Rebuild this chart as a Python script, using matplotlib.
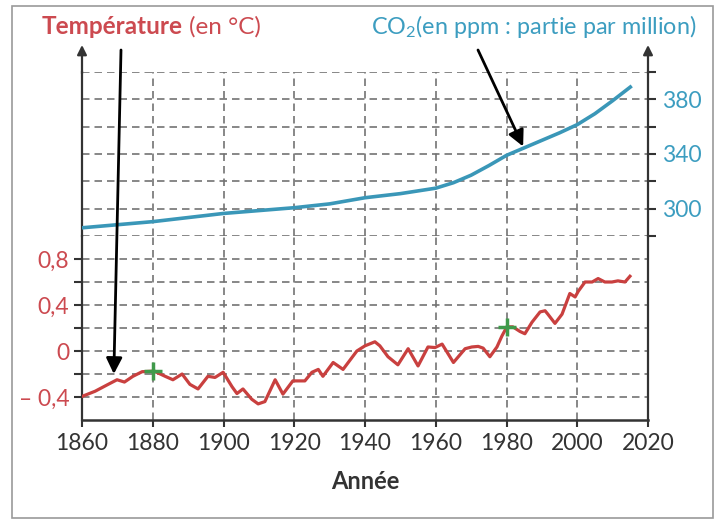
import matplotlib
matplotlib.use('Agg')
import matplotlib.pyplot as plt
from matplotlib.patches import Rectangle

plt.rcParams['font.family'] = ['Lato', 'DejaVu Sans']
plt.rcParams['mathtext.fontset'] = 'custom'
plt.rcParams['mathtext.rm'] = 'Lato'

############ Data ############
years_temp = [1860, 1863.7, 1867.4, 1869.9, 1872, 1874.4, 1877, 1880.4, 1883.5, 1885.7,
              1888.3, 1890.5, 1892.8, 1895.6, 1897.6, 1899.9, 1902.4, 1903.8, 1905.5, 1908,
              1909.8, 1911.7, 1914.6, 1916.8, 1919.6, 1923, 1925, 1926.8, 1928.1, 1931,
              1933.8, 1937.7, 1940, 1942.8, 1944.2, 1946.5, 1949.3, 1952.2, 1955, 1957.8,
              1959.8, 1961.8, 1965, 1968.3, 1970.2, 1972, 1973.4, 1975.3, 1977.3, 1978.7,
              1980.1, 1981.8, 1983.8, 1985.2, 1987.2, 1989.5, 1990.9, 1991.7, 1993.7, 1995.7,
              1997.9, 1999.4, 2000.3, 2002.2, 2004.2, 2005.9, 2007.8, 2009.8, 2011.5, 2013.5,
              2014.9]
temp = [-0.395, -0.35, -0.29, -0.25, -0.27, -0.22, -0.18, -0.175, -0.22, -0.25,
        -0.2, -0.29, -0.33, -0.22, -0.23, -0.185, -0.31, -0.37, -0.33, -0.42,
        -0.46, -0.44, -0.25, -0.375, -0.26, -0.26, -0.185, -0.16, -0.22, -0.1,
        -0.16, 0.0, 0.045, 0.08, 0.045, -0.05, -0.12, 0.02, -0.13, 0.035,
        0.03, 0.06, -0.1, 0.02, 0.035, 0.04, 0.025, -0.05, 0.035, 0.13,
        0.21, 0.21, 0.17, 0.15, 0.25, 0.34, 0.35, 0.32, 0.24, 0.32,
        0.5, 0.47, 0.52, 0.6, 0.6, 0.63, 0.6, 0.6, 0.61, 0.6,
        0.65]

years_co2 = [1860, 1880, 1900, 1920, 1930, 1940, 1950, 1960, 1965, 1970, 1975, 1980,
             1985, 1990, 1995, 2000, 2005, 2010, 2015]
co2 = [286, 290.5, 296.5, 300.7, 303.5, 308, 311, 315, 319, 324.5, 331.5, 339,
       344.5, 350, 355.5, 361.5, 369.5, 379, 389]

mark_years = [1880, 1980]
mark_temp = [-0.17, 0.21]

x_ticks = [1860, 1880, 1900, 1920, 1940, 1960, 1980, 2000, 2020]
temp_ticks = [-0.4, -0.2, 0, 0.2, 0.4, 0.6, 0.8]
temp_labels = ['– 0,4', '', '0', '', '0,4', '', '0,8']
co2_ticks = [280, 300, 320, 340, 360, 380, 400]
co2_labels = ['', '300', '', '340', '', '380', '']

RED = '#cc4a50'
BLUE = '#3c9dc0'
DARK = '#333333'
GRID = '#737373'

W, H = 721, 524
fig = plt.figure(figsize=(W / 100, H / 100), dpi=100)
fig.patch.set_facecolor('white')

def box(l, t, r, b):
    return [l / W, (H - b) / H, (r - l) / W, (b - t) / H]

ax_c = fig.add_axes(box(82, 72, 648, 236))
ax_t = fig.add_axes(box(82, 236, 648, 420))
ax_t.set_zorder(3)
for ax in (ax_t, ax_c):
    ax.patch.set_visible(False)
    ax.set_xlim(1860, 2020)
    ax.set_xticks(x_ticks)
    ax.grid(True, color=GRID, lw=1.2, linestyle=(0, (4.5, 3)))
    ax.set_axisbelow(True)
    for s in ('left', 'right'):
        ax.spines[s].set_color(DARK)
        ax.spines[s].set_linewidth(1.6)
    ax.spines['top'].set_visible(False)

############ Temperature ############
ax_t.plot(years_temp, temp, color='#c9403f', lw=2.3, zorder=4)
ax_t.plot(mark_years, mark_temp, '+', color='#3f9a4a', markersize=13, mew=2.5, zorder=5)
ax_t.set_ylim(-0.6, 1.0)
ax_t.set_yticks(temp_ticks)
ax_t.set_yticklabels(temp_labels)
ax_t.spines['bottom'].set_color(DARK)
ax_t.spines['bottom'].set_linewidth(1.8)
ax_t.tick_params(axis='y', direction='out', length=6, width=1.5, color=DARK,
                 labelcolor=RED, labelsize=16.5, pad=3, right=False)
ax_t.tick_params(axis='x', direction='out', length=5, width=1.5, color=DARK,
                 labelcolor=DARK, labelsize=16.5, pad=4)
ax_t.set_xlabel('Année', fontsize=17, fontweight='bold', color=DARK, labelpad=12)

############ CO2 ############
ax_c.plot(years_co2, co2, color='#3a97b8', lw=2.6, zorder=4)
ax_c.set_ylim(280, 400)
ax_c.spines['bottom'].set_visible(False)
ax_c.yaxis.tick_right()
ax_c.set_yticks(co2_ticks)
ax_c.set_yticklabels(co2_labels)
ax_c.tick_params(axis='y', direction='out', length=6, width=1.5, color=DARK,
                 labelcolor=BLUE, labelsize=16.5, pad=4, left=False)
ax_c.tick_params(axis='x', length=0, labelbottom=False)

# arrow heads on the two vertical axes
head = dict(arrowstyle='-|>', color=DARK, lw=1.6, mutation_scale=14, shrinkA=0, shrinkB=0)
for xf in (0, 1):
    ax_c.annotate('', xy=(xf, 1 + 27 / 164), xycoords='axes fraction',
                  xytext=(xf, 0.99), textcoords='axes fraction', arrowprops=head)

############ Titles ############
t1 = fig.text(42 / W, (H - 34) / H, 'Température', color=RED, fontsize=17.5,
              fontweight='bold', va='baseline')
fig.canvas.draw()
bb = t1.get_window_extent()
fig.text((bb.x1 + 6) / W, (H - 34) / H, '(en °C)', color=RED, fontsize=17.5, va='baseline')
fig.text(371 / W, (H - 34) / H, r'CO$_\mathrm{2}$(en ppm : partie par million)',
         color=BLUE, fontsize=16.8, va='baseline')

############ Hand-drawn arrows ############
black = dict(arrowstyle='-|>', color='black', lw=2, mutation_scale=24, shrinkA=0, shrinkB=0)
ax_t.annotate('', xy=(1869.0, -0.2), xycoords='data', xytext=(121, H - 50),
              textcoords='figure pixels', arrowprops=black)
ax_c.annotate('', xy=(1984.7, 345.5), xycoords='data', xytext=(478, H - 50),
              textcoords='figure pixels', arrowprops=black)

# frame around the whole document
fig.patches.append(Rectangle((12 / W, 6 / H), 701 / W, 512 / H, transform=fig.transFigure,
                             fill=False, ec='#9a9a9a', lw=1.2))

fig.savefig('out.png', dpi=100)
